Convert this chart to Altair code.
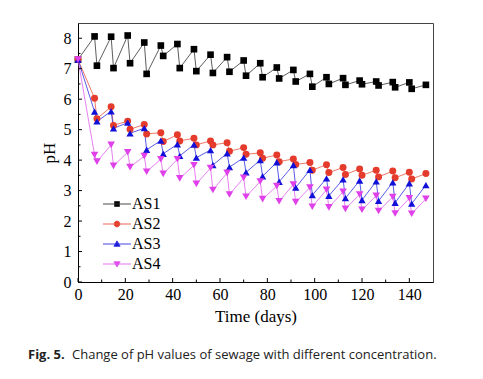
import altair as alt
import pandas as pd

# ---- data ----
series_names = ["AS1", "AS2", "AS3", "AS4"]
days = [0, 7, 8, 14, 15, 21, 22, 28, 29, 35, 36, 42, 43, 49, 50, 56, 57, 63, 64,
        70, 71, 77, 78, 84, 85, 91, 92, 98, 99, 105, 106, 112, 113, 119, 120,
        126, 127, 133, 134, 140, 141, 147]
as1 = [7.3, 8.06, 7.1, 8.05, 7.02, 8.09, 7.18, 7.86, 6.83, 7.76, 7.42, 7.81, 7.02,
       7.64, 6.92, 7.46, 6.86, 7.38, 6.9, 7.27, 6.77, 7.18, 6.72, 7.04, 6.68, 6.96,
       6.58, 6.83, 6.41, 6.72, 6.5, 6.69, 6.47, 6.61, 6.49, 6.58, 6.45, 6.56, 6.39,
       6.55, 6.34, 6.47]
as2 = [7.3, 6.03, 5.36, 5.75, 5.14, 5.28, 5.01, 5.17, 4.86, 4.9, 4.61, 4.83, 4.63,
       4.72, 4.5, 4.63, 4.5, 4.57, 4.29, 4.41, 4.19, 4.24, 4.06, 4.17, 3.95, 4.04,
       3.86, 3.92, 3.67, 3.85, 3.59, 3.76, 3.53, 3.71, 3.5, 3.67, 3.45, 3.64, 3.42,
       3.6, 3.38, 3.56]
as3 = [7.3, 5.59, 5.27, 5.6, 5.04, 5.23, 4.88, 5.05, 4.34, 4.64, 4.21, 4.52, 4.14,
       4.51, 4.08, 4.33, 3.84, 4.22, 3.77, 4.08, 3.6, 4.0, 3.47, 3.93, 3.29, 3.84,
       3.1, 3.68, 2.85, 3.4, 2.83, 3.37, 2.75, 3.33, 2.69, 3.3, 2.66, 3.27, 2.6,
       3.24, 2.57, 3.18]
as4 = [7.3, 4.17, 3.95, 4.5, 3.81, 4.26, 3.77, 4.13, 3.62, 4.03, 3.55, 4.03, 3.4,
       3.83, 3.22, 3.74, 3.02, 3.58, 2.87, 3.42, 2.8, 3.3, 2.72, 3.15, 2.65, 3.2,
       2.62, 3.1, 2.47, 3.03, 2.45, 2.96, 2.4, 2.87, 2.37, 2.83, 2.33, 2.79, 2.25,
       2.75, 2.24, 2.73]

x_ticks = [0, 20, 40, 60, 80, 100, 120, 140]
x_minor = [10, 30, 50, 70, 90, 110, 130]
y_ticks = [0, 1, 2, 3, 4, 5, 6, 7, 8]
y_minor = [0.5, 1.5, 2.5, 3.5, 4.5, 5.5, 6.5, 7.5]

caption_bold = "Fig. 5."
caption_text = "Change of pH values of sewage with different concentration."

# ---- styles ----
W, H = 355, 259
marker_colors = ["#000000", "#e53b2c", "#1010d8", "#e040ea"]
line_colors = ["#333333", "#e8553f", "#3030e0", "#e060ee"]
shapes = ["square", "circle", "triangle-up", "triangle-down"]
sizes = [44, 58, 60, 60]
legend_paths = [
    "M-2.8,0H2.8M-0.5,-0.5H0.5V0.5H-0.5Z",
    "M-2.8,0H2.8M0.58,0A0.58,0.58,0,1,1,-0.58,0A0.58,0.58,0,1,1,0.58,0Z",
    "M-2.8,0H2.8M0,-0.62L0.62,0.45L-0.62,0.45Z",
    "M-2.8,0H2.8M0,0.62L0.62,-0.45L-0.62,-0.45Z",
]
serif = "Liberation Serif"

rows = []
for name, vals in zip(series_names, [as1, as2, as3, as4]):
    for d, v in zip(days, vals):
        rows.append({"series": name, "day": d, "pH": v})
df = pd.DataFrame(rows)

xscale = alt.Scale(domain=[0, 150], nice=False, zero=False)
yscale = alt.Scale(domain=[0, 8.5], nice=False, zero=False)

axis_common = dict(ticks=False, grid=False, labelOverlap=False,
                   labelFont=serif, labelFontSize=16, labelColor="black",
                   titleFont=serif, titleFontSize=17, titleFontWeight="normal",
                   titleColor="black", domainColor="black", domainWidth=1)
xaxis = alt.Axis(values=x_ticks, labelPadding=4, title="Time (days)",
                 titlePadding=6, labelFlush=False, **axis_common)
yaxis = alt.Axis(values=y_ticks, labelPadding=7, title="pH",
                 titlePadding=5, **axis_common)


def X(field):
    return alt.X(field, scale=xscale, axis=xaxis)


def Y(field):
    return alt.Y(field, scale=yscale, axis=yaxis)


legend_props = dict(title=None, orient="none", legendX=31, legendY=173,
                    symbolSize=100, symbolStrokeWidth=0.9,
                    labelFont=serif, labelFontSize=16, labelColor="black",
                    labelOffset=7, rowPadding=4, padding=0)

base = alt.Chart(df)

lines = base.mark_line(strokeWidth=0.8).encode(
    x=X("day:Q"),
    y=Y("pH:Q"),
    color=alt.Color("series:N", scale=alt.Scale(domain=series_names, range=line_colors), legend=None),
    order="day:Q",
)

points = base.mark_point(filled=True, opacity=1).encode(
    x=X("day:Q"),
    y=Y("pH:Q"),
    color=alt.Color("series:N", scale=alt.Scale(domain=series_names, range=marker_colors), legend=None),
    shape=alt.Shape("series:N", scale=alt.Scale(domain=series_names, range=shapes), legend=None),
    size=alt.Size("series:N", scale=alt.Scale(domain=series_names, range=sizes), legend=None),
)

legend_layer = base.mark_point(filled=True, opacity=1).encode(
    x=X("day:Q"),
    y=Y("pH:Q"),
    fill=alt.Fill("series:N", scale=alt.Scale(domain=series_names, range=marker_colors),
                  legend=alt.Legend(**legend_props)),
    stroke=alt.Stroke("series:N", scale=alt.Scale(domain=series_names, range=line_colors),
                      legend=alt.Legend(**legend_props)),
    shape=alt.Shape("series:N", scale=alt.Scale(domain=series_names, range=legend_paths),
                    legend=alt.Legend(**legend_props)),
).transform_filter("false")

tick_x = alt.Chart(pd.DataFrame({"v": x_ticks})).mark_rule(color="black", strokeWidth=1).encode(
    x=X("v:Q"), y=alt.value(H), y2=alt.value(H - 4))
tick_xm = alt.Chart(pd.DataFrame({"v": x_minor})).mark_rule(color="black", strokeWidth=1).encode(
    x=X("v:Q"), y=alt.value(H), y2=alt.value(H - 2.5))
tick_y = alt.Chart(pd.DataFrame({"v": y_ticks})).mark_rule(color="black", strokeWidth=1).encode(
    y=Y("v:Q"), x=alt.value(0), x2=alt.value(4))
tick_ym = alt.Chart(pd.DataFrame({"v": y_minor})).mark_rule(color="black", strokeWidth=1).encode(
    y=Y("v:Q"), x=alt.value(0), x2=alt.value(2.5))

cap1 = alt.Chart(pd.DataFrame({"t": [caption_bold]})).mark_text(
    align="left", baseline="alphabetic", font="Open Sans", fontSize=13,
    fontWeight="bold", color="#222222").encode(text="t:N", x=alt.value(-50), y=alt.value(336))
cap2 = alt.Chart(pd.DataFrame({"t": [caption_text]})).mark_text(
    align="left", baseline="alphabetic", font="Open Sans", fontSize=13,
    color="#222222").encode(text="t:N", x=alt.value(-6), y=alt.value(336))

chart = alt.layer(
    lines, points, legend_layer, tick_x, tick_xm, tick_y, tick_ym, cap1, cap2
).resolve_scale(
    color="independent", fill="independent", stroke="independent",
    shape="independent", size="independent"
).properties(
    width=W, height=H,
    padding={"left": 70, "top": 15, "right": 42, "bottom": 89},
    autosize=alt.AutoSizeParams(type="none"),
).configure(
    font=serif
).configure_axis(
    labelFont=serif, labelFontSize=16, labelColor="black",
    titleFont=serif, titleFontSize=17, titleFontWeight="normal", titleColor="black",
).configure_legend(
    labelFont=serif, labelFontSize=16, labelColor="black",
).configure_view(
    stroke="#444444", strokeWidth=1
)

chart.save("out.html", embed_options={"renderer": "svg", "actions": False})
